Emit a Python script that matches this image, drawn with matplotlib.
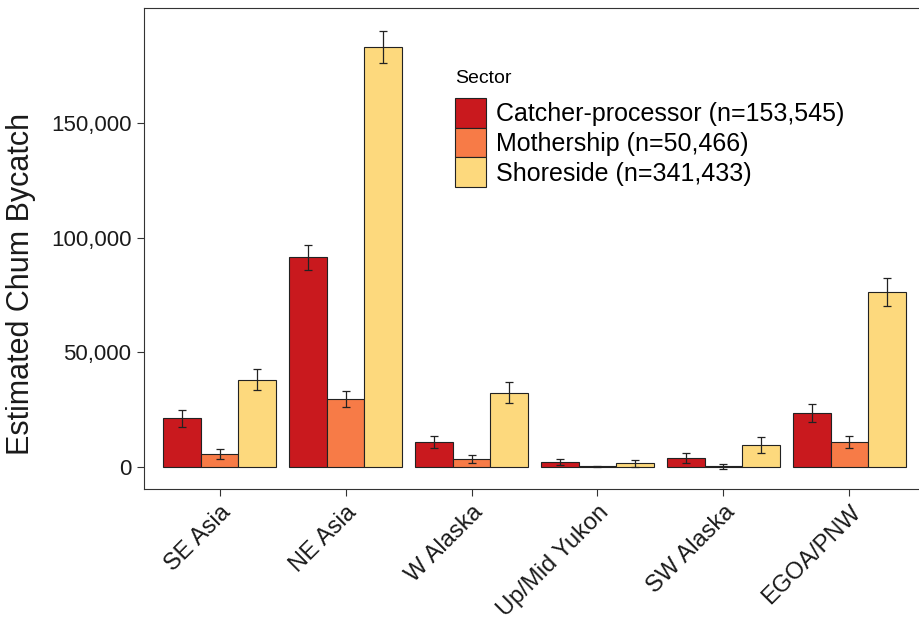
import numpy as np
import matplotlib
matplotlib.use("Agg")
from matplotlib import pyplot as plt
from matplotlib.patches import Patch
from matplotlib.ticker import FuncFormatter

plt.rcParams['font.family'] = ['Liberation Sans', 'DejaVu Sans']

#Data ----------------------------------------------------------#
regions = ["SE Asia", "NE Asia", "W Alaska", "Up/Mid Yukon", "SW Alaska", "EGOA/PNW"]
sectors = ["Catcher-processor (n=153,545)", "Mothership (n=50,466)", "Shoreside (n=341,433)"]

catcher = [21200, 91500, 10900, 2200, 3900, 23600]
catcher_err = [3800, 5400, 2800, 1500, 2200, 3800]

mothership = [5800, 29700, 3500, 300, 300, 10900]
mothership_err = [2200, 3400, 1900, 300, 1100, 2800]

shoreside = [38100, 183100, 32300, 1600, 9600, 76400]
shoreside_err = [4600, 7000, 4600, 1600, 3400, 6000]

colors = ["#C9191E", "#F77B47", "#FDD97D"]

#Plot setup ----------------------------------------------------#
fig = plt.figure(figsize=(9.2, 6.21), dpi=100)
ax = fig.add_axes([144/920, 1-489/621, 781/920, 481/621])

x = np.arange(1, len(regions)+1)
w = 0.3
series = [(catcher, catcher_err), (mothership, mothership_err), (shoreside, shoreside_err)]

for k, (vals, errs) in enumerate(series):
    pos = x + (k-1)*w
    ax.bar(pos, vals, width=w, color=colors[k], edgecolor="#222222", linewidth=0.8, zorder=2)
    ax.errorbar(pos, vals, yerr=errs, fmt="none", ecolor="#222222", elinewidth=0.9,
                capsize=3, capthick=0.9, zorder=3)

ax.set_xlim(0.4, 6.6)
ax.set_ylim(-9590, 200100)
ax.set_yticks([0, 50000, 100000, 150000])
ax.yaxis.set_major_formatter(FuncFormatter(lambda v, p: f"{int(v):,}"))
ax.set_xticks(x)
ax.set_xticklabels(regions, rotation=45, ha="right", rotation_mode="anchor")

ax.tick_params(axis="both", labelsize=16, length=5, width=0.8, color="#333333",
               labelcolor="#1a1a1a", pad=4)
ax.tick_params(axis="x", labelsize=17)
for s in ax.spines.values():
    s.set_color("#333333")
    s.set_linewidth(0.8)
ax.spines["right"].set_visible(False)

ax.set_ylabel("Estimated Chum Bycatch", fontsize=22, color="#1a1a1a")
ax.yaxis.set_label_coords(-0.138, 0.426)

handles = [Patch(facecolor=c, edgecolor="#222222", linewidth=0.8) for c in colors]
leg = ax.legend(handles, sectors, title="Sector", loc="upper left",
                bbox_to_anchor=(455/920, 1-70/621), bbox_transform=fig.transFigure,
                frameon=False, fontsize=18, title_fontsize=14, labelspacing=0,
                handlelength=1.24, handleheight=1.45, handletextpad=0.42,
                borderpad=0, borderaxespad=0)
leg._legend_box.align = "left"
leg._legend_box.sep = 8

fig.savefig("out.png", dpi=100)
